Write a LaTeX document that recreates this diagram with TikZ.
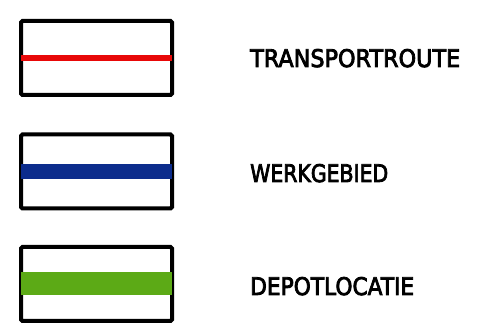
\documentclass[tikz,border=0pt]{standalone}
\usepackage{fontspec}
\setmainfont{DejaVu Sans}
\newfontfamily\legendfont{DejaVu Sans}[FakeBold=3.5]
\definecolor{routered}{RGB}{232,8,8}
\definecolor{werkblue}{RGB}{12,44,140}
\definecolor{depotgreen}{RGB}{92,170,22}
\begin{document}
\begin{tikzpicture}[x=1pt,y=1pt,
  legendbox/.style={draw=black,line width=4pt,rounded corners=1.5pt,fill=white,
    minimum width=151pt,minimum height=74pt,inner sep=0pt,anchor=center},
  legendtext/.style={anchor=base west,inner sep=0pt,text=black,font=\legendfont},
  band/.style={line width=#1,shorten <=2pt,shorten >=2pt}]
\useasboundingbox (0,0) rectangle (483,335);
\node[legendbox] (b1) at (96.5,277) {};
\node[legendbox] (b2) at (96.5,163.5) {};
\node[legendbox] (b3) at (96.5,51) {};
\draw[band=6pt,routered] (b1.west) -- (b1.east);
\draw[band=15pt,werkblue] (b2.west) -- (b2.east);
\draw[band=23pt,depotgreen] (b3.west) -- (b3.east);
\node[legendtext] (t1) at (250,268) {\resizebox{210pt}{18pt}{TRANSPORTROUTE}};
\node[legendtext] (t2) at (250,153) {\resizebox{138pt}{18pt}{WERKGEBIED}};
\node[legendtext] (t3) at (250,40) {\resizebox{164pt}{18pt}{DEPOTLOCATIE}};
\end{tikzpicture}
\end{document}
